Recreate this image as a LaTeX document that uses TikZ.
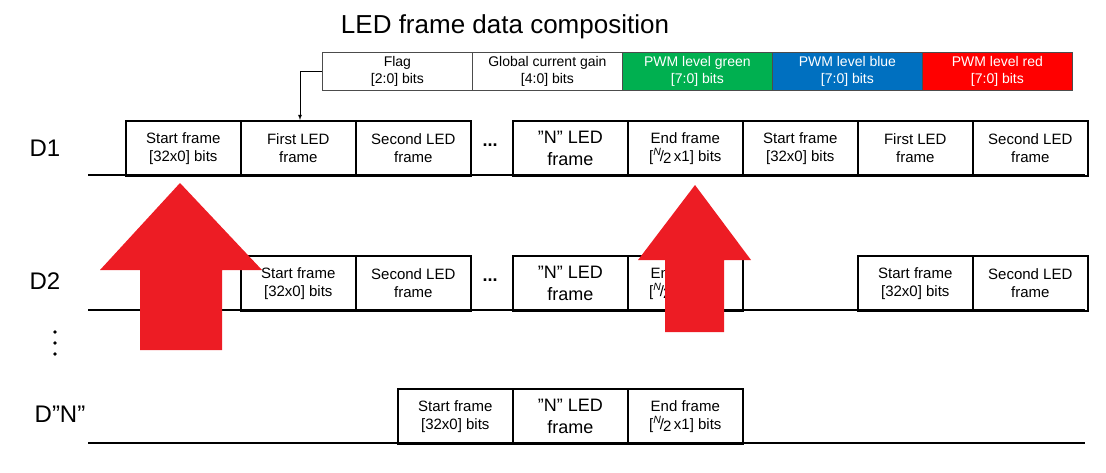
\documentclass[tikz,border=0pt]{standalone}
\usepackage{fontspec}
\setmainfont{Liberation Sans}
\begin{document}
\begin{tikzpicture}[x=1pt,y=-1pt,
  fr/.style={draw,line width=1.6pt,minimum width=115pt,minimum height=55pt,anchor=north west,inner sep=0pt,align=center,font=\fontsize{15}{18}\selectfont},
  big/.style={font=\fontsize{18}{22}\selectfont},
  cp/.style={draw=black!70,line width=0.8pt,minimum width=150pt,minimum height=38pt,anchor=north west,inner sep=0pt,align=center,font=\fontsize{14}{17}\selectfont},
  base/.style={line width=1.6pt},
  lab/.style={font=\fontsize{24}{28}\selectfont},
  rarrow/.style={fill={rgb,255:red,237;green,28;blue,36},draw=none}]
\useasboundingbox (0,0) rectangle (1106,472);
\newcommand{\halfN}{[\textsuperscript{\itshape N}\kern-1.5pt/\kern-1pt\raisebox{-2pt}{2}\,x1] bits}
% title
\node[font=\fontsize{26}{30}\selectfont] (title) at (505,27) {LED frame data composition};
% composition
\node[cp] (flag) at (322,52) {Flag\\{}[2:0] bits};
\node[cp] (gcg) at (472,52) {Global current gain\\{}[4:0] bits};
\node[cp,fill={rgb,255:red,0;green,176;blue,80},text=white] (g) at (622,52) {PWM level green\\{}[7:0] bits};
\node[cp,fill={rgb,255:red,0;green,112;blue,192},text=white] (b) at (772,52) {PWM level blue\\{}[7:0] bits};
\node[cp,fill={rgb,255:red,255;green,0;blue,0},text=white] (r) at (922,52) {PWM level red\\{}[7:0] bits};
% D1
\draw[base] (88,175) -- (1085,175);
\node[fr] (a1) at (125,120) {Start frame\\{}[32x0] bits};
\node[fr] (a2) at (240,120) {First LED\\frame};
\node[fr] (a3) at (355,120) {Second LED\\frame};
\node[font=\bfseries\fontsize{18}{20}\selectfont] (a4) at (490,145) {...};
\node[fr,big] (a5) at (512,120) {"N" LED\\frame};
\node[fr] (a6) at (627,120) {End frame\\\halfN};
\node[fr] (a7) at (742,120) {Start frame\\{}[32x0] bits};
\node[fr] (a8) at (857,120) {First LED\\frame};
\node[fr] (a9) at (972,120) {Second LED\\frame};
\coordinate (ah) at (300,120);
\draw[line width=0.8pt,-latex] (flag.west) -| (ah);
% D2
\draw[base] (88,310) -- (1085,310);
\node[fr] (b2) at (240,255) {Start frame\\{}[32x0] bits};
\node[fr] (b3) at (355,255) {Second LED\\frame};
\node[font=\bfseries\fontsize{18}{20}\selectfont] (b4) at (490,280) {...};
\node[fr,big] (b5) at (512,255) {"N" LED\\frame};
\node[fr] (b6) at (627,255) {End frame\\\halfN};
\node[fr] (b8) at (857,255) {Start frame\\{}[32x0] bits};
\node[fr] (b9) at (972,255) {Second LED\\frame};
% DN
\draw[base] (88,443) -- (1085,443);
\node[fr] (c1) at (397,388) {Start frame\\{}[32x0] bits};
\node[fr,big] (c2) at (512,388) {"N" LED\\frame};
\node[fr] (c3) at (627,388) {End frame\\\halfN};
% labels
\node[lab] (l1) at (45,148) {D1};
\node[lab] (l2) at (45,281) {D2};
\node[lab] (l3) at (60,414) {D"N"};
\foreach \yy in {332,343,354} \fill (55,\yy) circle (1.8pt);
% red arrows
\fill[rarrow] (180,183) -- (262,270) -- (222,270) -- (222,350) -- (140,350) -- (140,270) -- (100,270) -- cycle;
\fill[rarrow] (695,185) -- (751,260) -- (724,260) -- (724,332) -- (665,332) -- (665,260) -- (638,260) -- cycle;
\end{tikzpicture}
\end{document}
